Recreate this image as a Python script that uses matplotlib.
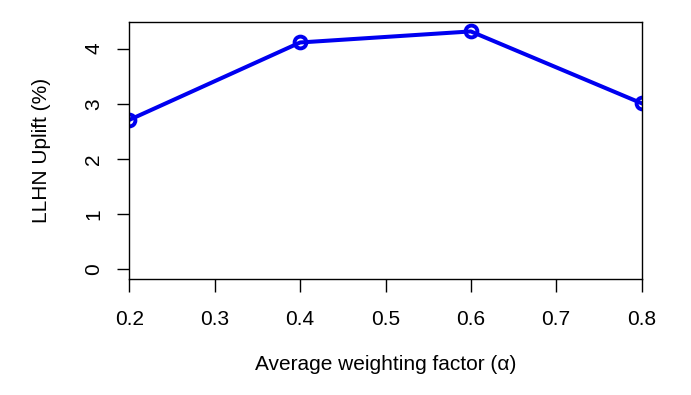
import matplotlib.pyplot as plt

# data
alpha = [0.2, 0.4, 0.6, 0.8]
uplift = [2.71, 4.11, 4.31, 3.01]
xticks = [0.2, 0.3, 0.4, 0.5, 0.6, 0.7, 0.8]
yticks = [0, 1, 2, 3, 4]

plt.rcParams['font.family'] = ['Liberation Sans', 'DejaVu Sans']

fig = plt.figure(figsize=(6.91, 3.95), dpi=100)
ax = fig.add_axes([0.1874, 0.2937, 0.7410, 0.6494])

ax.plot(alpha, uplift, color='#0000f0', lw=2.9, marker='o', ms=8.5,
        mfc='none', mec='#0000f0', mew=2.8, clip_on=True)

ax.set_xlim(0.2, 0.8)
ax.set_ylim(-0.172, 4.472)
ax.set_xticks(xticks)
ax.set_xticklabels([f"{v:.1f}" for v in xticks])
ax.set_yticks(yticks)
ax.set_yticklabels([str(v) for v in yticks], rotation=90, va='center')
ax.tick_params(axis='both', length=9, width=1, labelsize=15, direction='out')
ax.tick_params(axis='x', pad=13)
ax.tick_params(axis='y', pad=10)

ax.set_xlabel("Average weighting factor (\u03b1)", fontsize=15, va='center')
ax.xaxis.set_label_coords(0.5, -0.335)
ax.set_ylabel("LLHN Uplift (%)", fontsize=15, va='center')
ax.yaxis.set_label_coords(-0.171, 0.5)

for s in ax.spines.values():
    s.set_linewidth(1)

fig.savefig("out.png", dpi=100)
